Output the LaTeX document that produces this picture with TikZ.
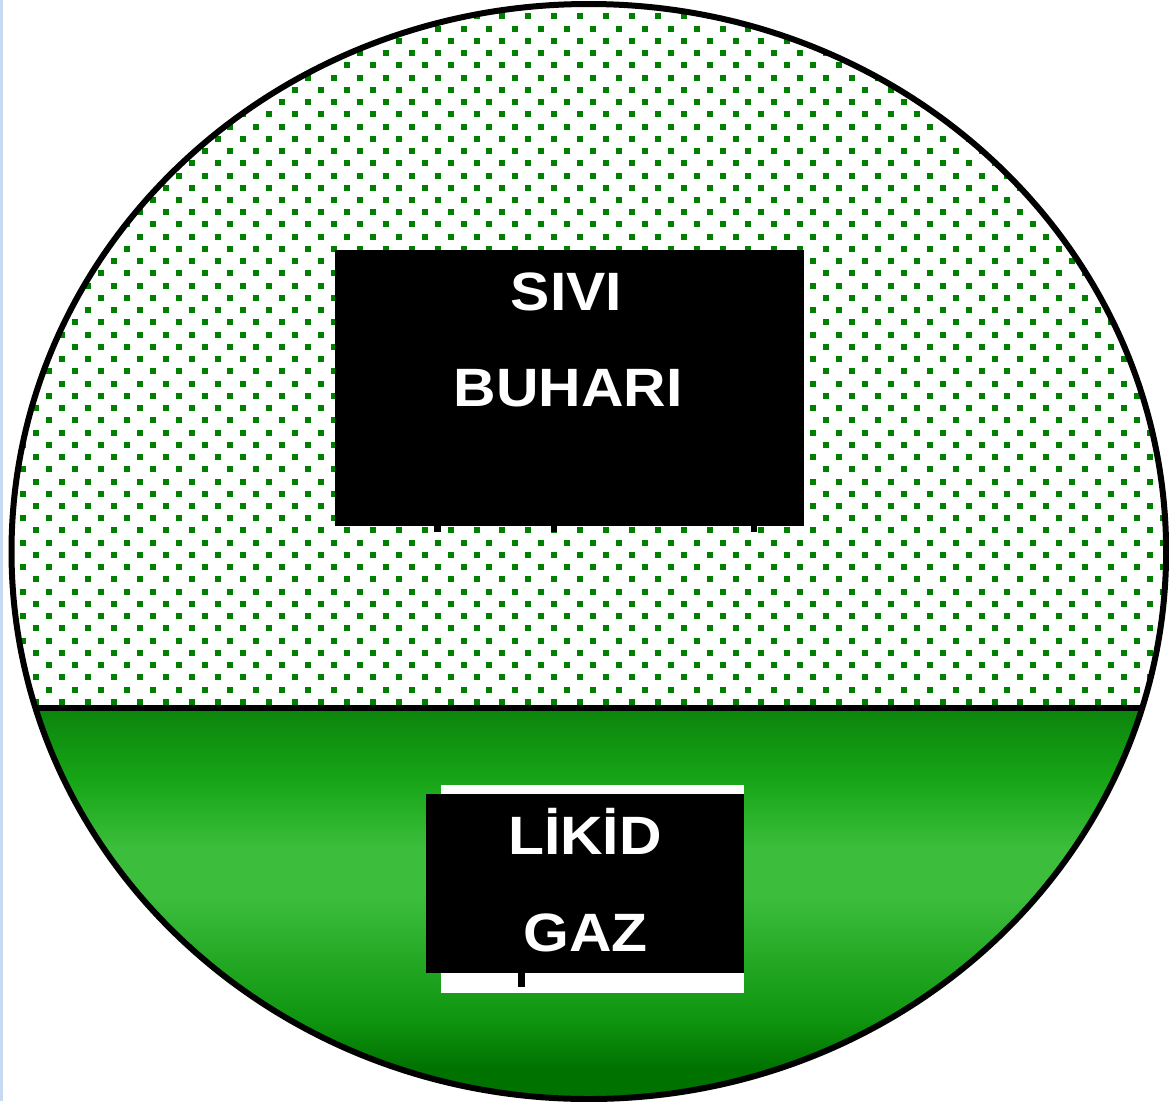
\documentclass[tikz,border=0pt]{standalone}
\usepackage{fontspec}
\newfontfamily\lblfont{Liberation Sans}[FakeStretch=1.09]
\definecolor{dotc}{RGB}{0,128,0}
\definecolor{gtop}{RGB}{12,132,12}
\definecolor{gtwo}{RGB}{22,165,22}
\definecolor{gmid}{RGB}{60,190,60}
\definecolor{gthr}{RGB}{14,148,14}
\definecolor{gbot}{RGB}{0,114,0}
\definecolor{edgeblue}{RGB}{198,217,241}
\pgfdeclareverticalshading{liq}{100bp}{color(0bp)=(gbot); color(25bp)=(gbot); color(29bp)=(gbot); color(35bp)=(gthr); color(51bp)=(gmid); color(57bp)=(gmid); color(66bp)=(gtwo); color(75bp)=(gtop); color(100bp)=(gtop)}
\tikzset{
  blackbox/.style={fill=black, draw=none, inner sep=0pt, outer sep=0pt},
  whitebox/.style={fill=white, draw=none, inner sep=0pt, outer sep=0pt},
  lbl/.style={text=white, font=\lblfont\bfseries\fontsize{54}{60}\selectfont, inner sep=0pt, anchor=base},
  tank/.style={draw=black, line width=6pt},
}
\begin{document}
\begin{tikzpicture}[x=1pt,y=-1pt]
\useasboundingbox (0,0) rectangle (1169,1101);
\fill[white] (0,0) rectangle (1169,1101);
\fill[edgeblue] (0,0) rectangle (2.5,1101);
% dotted vapour region
\begin{scope}
  \clip (588.8,551.5) ellipse [x radius=577.3, y radius=547.5];
  \clip (0,0) rectangle (1169,708);
  \foreach \k in {-19,...,38} {
    \pgfmathsetmacro\yy{236.7+12.24*\k}
    \pgfmathsetmacro\xo{347+12.95*mod(\k+20,2)-25.9*14}
    \foreach \j in {0,...,46} {
      \fill[dotc] ({\xo+25.9*\j-3},{\yy-3}) rectangle ++(6,6);
    }
  }
\end{scope}
% liquid region
\begin{scope}
  \clip (588.8,551.5) ellipse [x radius=577.3, y radius=547.5];
  \shade[shading=liq] (0,708) rectangle (1169,1100);
  \draw[black, line width=5.5pt] (0,708) -- (1169,708);
\end{scope}
% vapour label box
\node[blackbox, minimum width=469pt, minimum height=276pt] (vbox) at (569.5,388) {};
\fill[black] (434,526) rectangle (441,532);
\fill[black] (551,526) rectangle (557,532);
\fill[black] (751,526) rectangle (757,532);
\node[lbl] (t1) at (566.5,310) {SIVI};
\node[lbl] (t2) at (568,406) {BUHARI};
% liquid label box
\node[whitebox, minimum width=303pt, minimum height=208pt] (lwbox) at (592.5,888.5) {};
\node[blackbox, minimum width=318pt, minimum height=179pt] (lbox) at (585,883.5) {};
\fill[black] (518,973) rectangle (525,987);
\node[lbl] (t3) at (585,854) {LİKİD};
\node[lbl] (t4) at (585.5,951) {GAZ};
% tank outline
\draw[tank] (588.8,551.5) ellipse [x radius=577.3, y radius=547.5];
\end{tikzpicture}
\end{document}
